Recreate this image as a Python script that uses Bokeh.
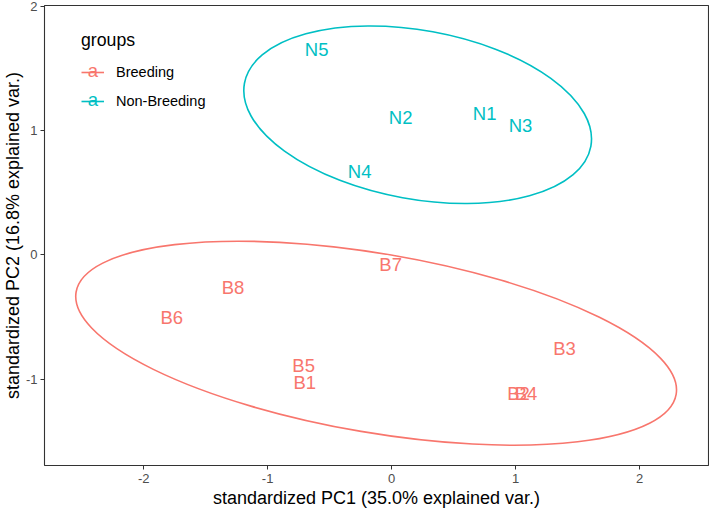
from bokeh.plotting import figure
from bokeh.models import ColumnDataSource, FixedTicker, Legend, LegendItem, Label, Range1d, Title
from bokeh.core.properties import value
from bokeh.embed import file_html
from bokeh.resources import INLINE

# ---- data ----
sample_names = ["B1", "B2", "B3", "B4", "B5", "B6", "B7", "B8",
                "N1", "N2", "N3", "N4", "N5"]
pc1 = [-0.70, 1.024, 1.394, 1.084, -0.71, -1.774, -0.008, -1.28,
       0.75, 0.073, 1.04, -0.258, -0.605]
pc2 = [-1.023, -1.114, -0.756, -1.114, -0.89, -0.50, -0.076, -0.26,
       1.138, 1.106, 1.04, 0.672, 1.653]
groups = ["Breeding"] * 8 + ["Non-Breeding"] * 5

group_names = ["Breeding", "Non-Breeding"]
group_colors = ["#F8766D", "#00BFC4"]
# 68% normal-probability ellipses (centre, full axes, rotation in radians)
ell_cx = [-0.125, 0.21]
ell_cy = [-0.71, 1.128]
ell_w = [4.91, 2.84]
ell_h = [1.44, 1.358]
ell_angle = [-0.169, -0.18]

x_ticks = [-2, -1, 0, 1, 2]
x_tick_labels = ["-2", "-1", "0", "1", "2"]
y_ticks = [-1, 0, 1, 2]
y_tick_labels = ["-1", "0", "1", "2"]
x_title = "standardized PC1 (35.0% explained var.)"
y_title = "standardized PC2 (16.8% explained var.)"

FONT = "Liberation Sans"

color_map = dict(zip(group_names, group_colors))
src = ColumnDataSource(dict(x=pc1, y=pc2, name=sample_names, group=groups,
                            color=[color_map[g] for g in groups]))
ell_src = ColumnDataSource(dict(x=ell_cx, y=ell_cy, w=ell_w, h=ell_h,
                                a=ell_angle, color=group_colors))

p = figure(width=709, height=510, output_backend="svg", toolbar_location=None,
           x_range=Range1d(-2.80, 2.556), y_range=Range1d(-1.694, 2.007),
           min_border_left=0, min_border_right=1, min_border_top=5,
           min_border_bottom=0)

p.ellipse(x="x", y="y", width="w", height="h", angle="a", source=ell_src,
          fill_color=None, line_color="color", line_width=1.6)

p.text(x="x", y="y", text="name", source=src, text_color="color",
       text_font=value(FONT), text_font_size="18.5px",
       text_align="center", text_baseline="middle")

# legend line stubs (one NaN point each, used only for the legend keys)
legend_items = []
for gname, gcol in zip(group_names, group_colors):
    r = p.line(x=[float("nan")], y=[float("nan")], line_color=gcol, line_width=1.6)
    legend_items.append(LegendItem(label=gname, renderers=[r]))

legend = Legend(items=legend_items, title="groups",
                title_text_font=FONT, title_text_font_size="17.7px",
                title_text_font_style="normal", title_text_color="black",
                label_text_font=FONT, label_text_font_size="14.5px",
                label_text_color="black", glyph_width=23, glyph_height=20,
                label_standoff=12, spacing=9, title_standoff=11,
                padding=0, margin=0, border_line_color=None,
                background_fill_alpha=0, location=(37, 354))
p.add_layout(legend)

for gcol, yy in zip(group_colors, [395, 366]):
    p.add_layout(Label(x=48.5, y=yy, x_units="screen", y_units="screen",
                       text="a", text_color=gcol, text_font=FONT,
                       text_font_size="18.5px", text_align="center",
                       text_baseline="middle"))

p.xgrid.visible = False
p.ygrid.visible = False
p.outline_line_color = "#333333"
p.outline_line_width = 1.1

p.xaxis.ticker = FixedTicker(ticks=x_ticks)
p.yaxis.ticker = FixedTicker(ticks=y_ticks)
p.xaxis.major_label_overrides = dict(zip(x_ticks, x_tick_labels))
p.yaxis.major_label_overrides = dict(zip(y_ticks, y_tick_labels))
for ax in (p.xaxis, p.yaxis):
    ax.axis_line_color = None
    ax.major_tick_line_color = "#333333"
    ax.major_tick_out = 4
    ax.major_tick_in = 0
    ax.minor_tick_line_color = None
    ax.major_label_text_font = FONT
    ax.major_label_text_font_size = "13px"
    ax.major_label_text_color = "#4D4D4D"
    ax.axis_label_text_font = FONT
    ax.axis_label_text_font_size = "18px"
    ax.axis_label_text_font_style = "normal"
    ax.axis_label_text_color = "black"
p.xaxis.major_label_standoff = 4
p.xaxis.axis_label_standoff = 2
p.yaxis.major_label_standoff = 3
p.xaxis.axis_label = x_title
p.yaxis.major_label_orientation = "horizontal"

# y-axis title as a left-side title panel (outermost)
p.add_layout(Title(text=y_title, align="center", text_font=FONT,
                   text_font_size="18px", text_font_style="normal",
                   text_color="black", standoff=0), "left")

open("out.html", "w").write(file_html(p, INLINE))
